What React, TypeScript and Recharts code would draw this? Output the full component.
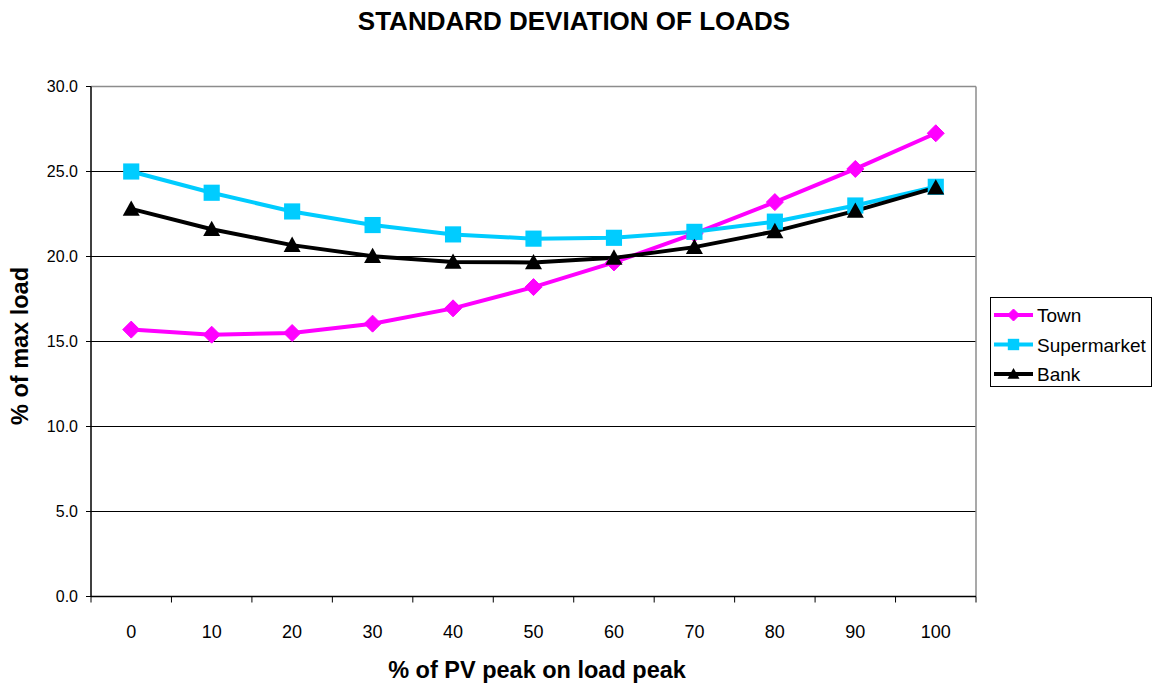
import React from 'react';
import { LineChart, Line, XAxis, YAxis, CartesianGrid, ReferenceLine } from 'recharts';

const categories = [0, 10, 20, 30, 40, 50, 60, 70, 80, 90, 100];
const town = [15.7, 15.4, 15.5, 16.05, 16.95, 18.2, 19.65, 21.35, 23.2, 25.15, 27.25];
const supermarket = [25.0, 23.75, 22.65, 21.85, 21.3, 21.05, 21.1, 21.45, 22.05, 23.0, 24.1];
const bank = [22.8, 21.6, 20.67, 20.02, 19.68, 19.65, 19.92, 20.55, 21.48, 22.68, 24.05];
const yTicks = [0, 5, 10, 15, 20, 25, 30];

const W = 1154;
const H = 684;
const M = { top: 86.5, right: 178, left: 0, bottom: 0 };
const Y_AXIS_W = 91;
const X_AXIS_H = 87.5;
const HALF_BAND = (W - M.right - Y_AXIS_W) / 22;

const data = categories.map((c, i) => ({
  x: c,
  Town: town[i],
  Supermarket: supermarket[i],
  Bank: bank[i],
}));

const FONT = 'Arial, "Liberation Sans", Helvetica, sans-serif';

const series = [
  { key: 'Town', color: '#FF00FF', shape: 'diamond' },
  { key: 'Supermarket', color: '#00CCFF', shape: 'square' },
  { key: 'Bank', color: '#000000', shape: 'triangle' },
];

function Marker({ cx, cy, shape, color, s }: any) {
  if (cx == null || cy == null) return null;
  if (shape === 'diamond') {
    return <path d={`M${cx},${cy - s}L${cx + s},${cy}L${cx},${cy + s}L${cx - s},${cy}Z`} fill={color} stroke={color} strokeWidth={1} />;
  }
  if (shape === 'square') {
    const h = s * 0.95;
    return <rect x={cx - h} y={cy - h} width={2 * h} height={2 * h} fill={color} />;
  }
  return <path d={`M${cx},${cy - s}L${cx + s},${cy + s * 0.8}L${cx - s},${cy + s * 0.8}Z`} fill={color} />;
}

function XTick(props: any) {
  const { x, y, payload, index } = props;
  return (
    <g>
      <line x1={x - HALF_BAND} x2={x - HALF_BAND} y1={y} y2={y + 6} stroke="#000" strokeWidth={1} />
      {index === categories.length - 1 && (
        <line x1={x + HALF_BAND} x2={x + HALF_BAND} y1={y} y2={y + 6} stroke="#000" strokeWidth={1} />
      )}
      <text x={x} y={y + 41} textAnchor="middle" fontFamily={FONT} fontSize={18} fill="#000">
        {payload.value}
      </text>
    </g>
  );
}

function LegendBox() {
  return (
    <div
      style={{
        position: 'absolute',
        left: 990,
        top: 297,
        border: '1.5px solid #000',
        width: 162,
        height: 90,
        boxSizing: 'border-box',
        background: '#fff',
      }}
    >
      <svg width={160} height={88} style={{ display: 'block' }}>
        {series.map((s, i) => {
          const cy = 17 + i * 29.5;
          return (
            <g key={s.key}>
              <line x1={3} x2={42} y1={cy} y2={cy} stroke={s.color} strokeWidth={4} />
              <Marker cx={22.5} cy={cy} shape={s.shape} color={s.color} s={6} />
              <text x={46} y={cy + 7} fontFamily={FONT} fontSize={19} fill="#000">{s.key}</text>
            </g>
          );
        })}
      </svg>
    </div>
  );
}

export default function App() {
  return (
    <div style={{ position: 'absolute', left: 0, top: 0, width: W, height: H, background: '#fff' }}>
      <LineChart width={W} height={H} data={data} margin={M}>
        <CartesianGrid vertical={false} stroke="#000" strokeWidth={1} />
        <XAxis
          dataKey="x"
          type="number"
          domain={[-5, 105]}
          ticks={categories}
          interval={0}
          height={X_AXIS_H}
          axisLine={{ stroke: '#000', strokeWidth: 1.5 }}
          tickLine={false}
          tickSize={0}
          tickMargin={0}
          tick={<XTick />}
        />
        <YAxis
          type="number"
          domain={[0, 30]}
          ticks={yTicks}
          interval={0}
          width={Y_AXIS_W}
          axisLine={{ stroke: '#000', strokeWidth: 1.5 }}
          tickLine={{ stroke: '#000' }}
          tickSize={5}
          tickMargin={8}
          tickFormatter={(v: number) => v.toFixed(1)}
          tick={{ fontFamily: FONT, fontSize: 16, fill: '#000' }}
        />
        <ReferenceLine y={30} stroke="#8c8c8c" strokeWidth={1.5} />
        <ReferenceLine x={105} stroke="#8c8c8c" strokeWidth={1.5} />
        {series.map((s) => (
          <Line
            key={s.key}
            dataKey={s.key}
            stroke={s.color}
            strokeWidth={4}
            isAnimationActive={false}
            dot={(p: any) => <Marker key={`${s.key}-${p.index}`} cx={p.cx} cy={p.cy} shape={s.shape} color={s.color} s={8.5} />}
            activeDot={false}
          />
        ))}
      </LineChart>
      <LegendBox />
      <svg width={W} height={H} style={{ position: 'absolute', left: 0, top: 0, pointerEvents: 'none' }}>
        <text x={574} y={30} textAnchor="middle" fontFamily={FONT} fontWeight="bold" fontSize={26} fill="#000">
          STANDARD DEVIATION OF LOADS
        </text>
        <text x={537} y={678} textAnchor="middle" fontFamily={FONT} fontWeight="bold" fontSize={23.5} fill="#000">
          % of PV peak on load peak
        </text>
        <text
          transform="translate(28,346) rotate(-90)"
          textAnchor="middle"
          fontFamily={FONT}
          fontWeight="bold"
          fontSize={23.5}
          fill="#000"
        >
          % of max load
        </text>
      </svg>
    </div>
  );
}
